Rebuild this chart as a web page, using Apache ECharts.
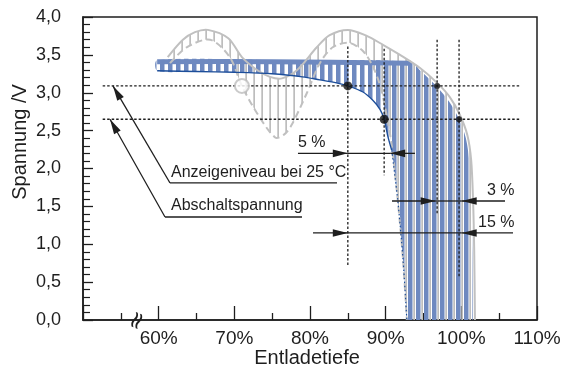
<!DOCTYPE html>
<html>
<head>
<meta charset="utf-8">
<script src="https://cdn.jsdelivr.net/npm/echarts@6/dist/echarts.min.js"></script>
<style>
  html, body { margin: 0; padding: 0; background: #fff; }
  #chart { width: 566px; height: 374px; }
</style>
</head>
<body>
<div id="chart"></div>
<script>
// Entladetiefe in %, Spannung in V

// grey band (temperature spread): upper solid curve and lower dashed curve
var grayTopX = [61.2, 63.2, 64.8, 66.5, 69.2, 71.0, 73.0, 74.7, 76.3, 78.3, 80.9, 82.6, 85.0, 87.3, 89.7, 91.9, 94.5, 96.8, 98.5, 99.8, 100.8, 101.3, 101.55, 101.7, 101.8];
var grayTopY = [3.47, 3.70, 3.80, 3.83, 3.72, 3.47, 3.30, 3.21, 3.19, 3.30, 3.60, 3.76, 3.83, 3.76, 3.63, 3.50, 3.33, 3.13, 2.94, 2.71, 2.44, 2.11, 1.58, 0.92, 0];
var grayLowX = [61.5, 63.7, 66.8, 69.4, 71.0, 73.0, 75.4, 76.6, 77.6, 79.6, 81.3, 83.0, 85.1, 86.9, 88.2, 89.25, 90.0, 90.8, 91.6, 92.3, 92.8];
var grayLowY = [3.39, 3.60, 3.70, 3.47, 3.09, 2.73, 2.41, 2.45, 2.58, 3.00, 3.39, 3.60, 3.66, 3.56, 3.37, 3.10, 2.77, 2.31, 1.58, 0.79, 0];

// blue band (discharge curves): top edge and lower edge (25 °C curve)
var blueTopX = [59.8, 75.0, 93.3, 94.6, 96.7, 98.4, 99.7, 100.6, 101.1, 101.35, 101.45, 101.5];
var blueTopY = [3.43, 3.43, 3.41, 3.29, 3.09, 2.88, 2.65, 2.40, 2.05, 1.55, 0.90, 0];
var blueLowX = [59.8, 65.0, 70.0, 75.0, 79.0, 81.3, 83.5, 85.0, 87.0, 88.3, 89.25, 89.8, 90.3, 90.8, 91.6, 92.3, 92.8];
var blueLowY = [3.29, 3.28, 3.27, 3.25, 3.21, 3.17, 3.13, 3.09, 3.01, 2.90, 2.78, 2.65, 2.42, 2.24, 1.58, 0.79, 0];

// levels and marked points
var levelShow = 3.09;   // Anzeigeniveau
var levelCut = 2.65;    // Abschaltspannung
var bigDots = [[85.0, 3.09], [89.8, 2.65]];
var smallDots = [[96.8, 3.09], [99.7, 2.65]];
var openDot = [[71.0, 3.09]];

var xLabels = ['60%', '70%', '80%', '90%', '100%', '110%'];

var FONT = 'Liberation Sans';
var INK = '#1e1e1e';
var BLUE = '#6e89c0';
var GRAY = '#c0c0c0';

function stripe(color, x0, w) {
  var c = document.createElement('canvas');
  c.width = 8;
  c.height = 4;
  var ctx = c.getContext('2d');
  ctx.fillStyle = color;
  ctx.fillRect(x0, 0, w, 4);
  return { image: c, repeat: 'repeat' };
}
var blueHatch = stripe(BLUE, 0, 4.5);
var grayHatch = stripe('#bdbdbd', 5.3, 1.7);

function toPts(xs, ys, api) {
  var pts = [];
  for (var i = 0; i < xs.length; i++) pts.push(api.coord([xs[i], ys[i]]));
  return pts;
}

function areaItem(topX, topY, lowX, lowY, fill) {
  return function (params, api) {
    var pts = toPts(topX, topY, api);
    pts.push(api.coord([topX[topX.length - 1], -0.4]));
    pts.push(api.coord([lowX[lowX.length - 1], -0.4]));
    var low = toPts(lowX, lowY, api).reverse();
    return {
      type: 'polygon',
      shape: { points: pts.concat(low), smooth: 0.3 },
      style: { fill: fill, stroke: null }
    };
  };
}

function curveItem(xs, ys, style) {
  return function (params, api) {
    return {
      type: 'polyline',
      shape: { points: toPts(xs, ys, api), smooth: 0.3 },
      style: style
    };
  };
}

function segItem(params, api) {
  var a = api.coord([api.value(0), api.value(1)]);
  var b = api.coord([api.value(2), api.value(3)]);
  return {
    type: 'line',
    shape: { x1: a[0], y1: a[1], x2: b[0], y2: b[1] },
    style: { stroke: INK, lineWidth: 1.3, lineDash: [2.5, 2] }
  };
}

function arrowItem(params, api) {
  var a = api.coord([api.value(0), api.value(1)]);
  var b = api.coord([api.value(2), api.value(3)]);
  var kids = [{
    type: 'line',
    shape: { x1: a[0], y1: a[1], x2: b[0], y2: b[1] },
    style: { stroke: INK, lineWidth: 1.3 }
  }];
  if (api.value(4)) {
    var dx = b[0] - a[0], dy = b[1] - a[1];
    var len = Math.sqrt(dx * dx + dy * dy);
    var ux = dx / len, uy = dy / len, L = 15, W = 3.8;
    var bx = b[0] - ux * L, by = b[1] - uy * L;
    kids.push({
      type: 'polygon',
      shape: { points: [[b[0], b[1]], [bx - uy * W, by + ux * W], [bx + uy * W, by - ux * W]] },
      style: { fill: INK }
    });
  }
  return { type: 'group', children: kids };
}

var chart = echarts.init(document.getElementById('chart'), null, { renderer: 'canvas' });

var option = {
  animation: false,
  backgroundColor: '#fff',
  grid: {
    left: 83, right: 29, top: 17, bottom: 54,
    containLabel: false,
    outerBoundsMode: 'none',
    show: true,
    borderColor: INK,
    borderWidth: 1.5
  },
  xAxis: {
    type: 'value',
    min: 50, max: 110, interval: 10,
    axisLine: { lineStyle: { color: INK, width: 1.5 } },
    axisTick: { inside: true, length: 14, lineStyle: { color: INK, width: 1.3 } },
    minorTick: { show: true, splitNumber: 2, length: 7, lineStyle: { color: INK, width: 1.3 } },
    splitLine: { show: false },
    axisLabel: {
      color: INK, fontSize: 19, fontFamily: FONT, margin: 9,
      formatter: function (v) { return v >= 60 ? xLabels[(v - 60) / 10] : ''; }
    }
  },
  yAxis: {
    type: 'value',
    min: 0, max: 4, interval: 0.5,
    axisLine: { lineStyle: { color: INK, width: 1.5 } },
    axisTick: { inside: true, length: 10, lineStyle: { color: INK, width: 1.3 } },
    minorTick: { show: true, splitNumber: 5, length: 7, lineStyle: { color: INK, width: 1.2 } },
    splitLine: { show: false },
    axisLabel: {
      color: INK, fontSize: 18, fontFamily: FONT, margin: 22,
      formatter: function (v) { return v.toFixed(1).replace('.', ','); }
    }
  },
  series: [
    { type: 'custom', clip: true, data: [[60, 1]], renderItem: areaItem(grayTopX, grayTopY, grayLowX, grayLowY, grayHatch) },
    { type: 'custom', clip: true, data: [[60, 1]], renderItem: areaItem(blueTopX, blueTopY, blueLowX, blueLowY, blueHatch) },
    { type: 'custom', clip: true, data: [[60, 1]],
      renderItem: curveItem(blueTopX.slice(0, 3), blueTopY.slice(0, 3).map(function (v) { return v - 0.02; }),
        { stroke: BLUE, lineWidth: 5, fill: 'none' }) },
    { type: 'custom', clip: true, data: [[60, 1]],
      renderItem: curveItem(grayTopX, grayTopY, { stroke: GRAY, lineWidth: 2, fill: 'none' }) },
    { type: 'custom', clip: true, data: [[60, 1]],
      renderItem: curveItem(grayLowX, grayLowY, { stroke: GRAY, lineWidth: 2, lineDash: [7, 4], fill: 'none' }) },
    { type: 'custom', clip: true, data: [[60, 1]],
      renderItem: curveItem(blueLowX.slice(0, 14), blueLowY.slice(0, 14), { stroke: '#1d4e9a', lineWidth: 1.4, fill: 'none' }) },
    { type: 'custom', clip: true, data: [[60, 1]],
      renderItem: curveItem(blueLowX.slice(13), blueLowY.slice(13), { stroke: '#1d4e9a', lineWidth: 1.2, lineDash: [1.5, 2.5], fill: 'none' }) },
    {
      type: 'custom',
      renderItem: segItem,
      encode: { x: [0, 2], y: [1, 3] },
      data: [
        [52.6, levelShow, 107.75, levelShow],
        [52.6, levelCut, 107.75, levelCut],
        [85.0, 3.61, 85.0, 0.70],
        [89.8, 3.58, 89.8, 1.91],
        [96.8, 3.70, 96.8, 1.39],
        [99.7, 3.70, 99.7, 0.57]
      ]
    },
    {
      type: 'custom',
      renderItem: arrowItem,
      encode: { x: [0, 2], y: [1, 3] },
      data: [
        [78.41, 2.20, 85.0, 2.20, 1],
        [85.0, 2.20, 90.6, 2.20, 0],
        [93.87, 2.20, 90.6, 2.20, 1],
        [90.84, 1.571, 96.6, 1.571, 1],
        [96.6, 1.571, 100.05, 1.571, 0],
        [105.77, 1.571, 100.05, 1.571, 1],
        [80.40, 1.149, 85.0, 1.149, 1],
        [85.0, 1.149, 100.05, 1.149, 0],
        [106.83, 1.149, 100.05, 1.149, 1],
        [83.57, 1.809, 61.50, 1.809, 0],
        [61.50, 1.809, 53.96, levelShow, 1],
        [78.94, 1.360, 60.84, 1.360, 0],
        [60.84, 1.360, 53.57, levelCut, 1]
      ]
    },
    {
      type: 'scatter', data: openDot, symbolSize: 14,
      itemStyle: { color: '#fff', borderColor: '#bdbdbd', borderWidth: 2 }
    },
    { type: 'scatter', data: bigDots, symbolSize: 9, itemStyle: { color: '#111' } },
    { type: 'scatter', data: smallDots, symbolSize: 6, itemStyle: { color: '#111' } }
  ],
  graphic: [
    { type: 'text', x: 298, y: 143, z: 100, style: { text: '5 %', fontSize: 16, fontFamily: FONT, fill: INK, verticalAlign: 'middle' } },
    { type: 'text', x: 171, y: 173, z: 100, style: { text: 'Anzeigeniveau bei 25 °C', fontSize: 16, fontFamily: FONT, fill: INK, verticalAlign: 'middle' } },
    { type: 'text', x: 171, y: 206, z: 100, style: { text: 'Abschaltspannung', fontSize: 16, fontFamily: FONT, fill: INK, verticalAlign: 'middle' } },
    { type: 'text', x: 487, y: 191, z: 100, style: { text: '3 %', fontSize: 16, fontFamily: FONT, fill: INK, verticalAlign: 'middle' } },
    { type: 'text', x: 478, y: 223, z: 100, style: { text: '15 %', fontSize: 16, fontFamily: FONT, fill: INK, verticalAlign: 'middle' } },
    { type: 'text', x: 20, y: 142, rotation: Math.PI / 2, z: 100,
      style: { text: 'Spannung /V', fontSize: 20, fontFamily: FONT, fill: INK, align: 'center', verticalAlign: 'middle' } },
    { type: 'text', x: 307, y: 358, z: 100,
      style: { text: 'Entladetiefe', fontSize: 20, fontFamily: FONT, fill: INK, align: 'center', verticalAlign: 'middle' } },
    { type: 'text', x: 138, y: 321, rotation: 1.15, z: 100,
      style: { text: '≈', fontSize: 24, fontFamily: 'DejaVu Sans', fill: INK, align: 'center', verticalAlign: 'middle' } }
  ]
};

chart.setOption(option);
</script>
</body>
</html>
